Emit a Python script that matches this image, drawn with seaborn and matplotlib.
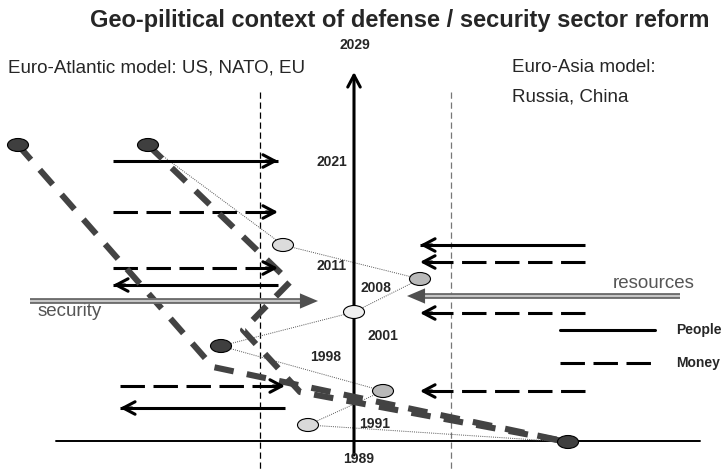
import numpy as np
import pandas as pd
import seaborn as sns
import matplotlib.pyplot as plt
from matplotlib.patches import Ellipse

# timeline labels on the central axis
years = ["2029", "2021", "2011", "2008", "2001", "1998", "1991", "1989"]
year_x = [355, 332, 332, 376, 383, 326, 375, 359]
year_y = [45, 162, 266, 288, 336, 357, 424, 459]

# dotted path of reform stages (nodes)
path_x = [148, 283, 420, 354, 221, 383, 308, 568]
path_y = [145, 245, 279, 312, 346, 391, 425, 442]
node_color = ["#3f3f3f", "#dcdcdc", "#b9b9b9", "#efefef", "#3f3f3f", "#b9b9b9", "#d9d9d9", "#3f3f3f"]
start_x = [18]
start_y = [145]

# thick dashed trajectories
traj_a_x = [18, 213, 568]
traj_a_y = [145, 367, 442]
traj_b_x = [148, 290, 243, 300, 568]
traj_b_y = [145, 282, 330, 392, 442]

# Euro-Atlantic flows (left side)
west_y = [161, 212, 268, 285, 386, 408]
west_start = [113, 113, 113, 278, 120, 285]
west_end = [278, 278, 278, 113, 285, 120]
west_kind = ["People", "Money", "Money", "People", "Money", "People"]

# Euro-Asia flows (right side)
east_y = [245, 262, 313, 391]
east_start = [585, 585, 585, 585]
east_end = [420, 420, 420, 420]
east_kind = ["People", "Money", "Money", "Money"]

legend_kind = ["People", "Money"]
legend_y = [330, 363]

sns.set_style("white")
plt.rcParams["font.family"] = ["Liberation Sans", "DejaVu Sans"]

fig = plt.figure(figsize=(7.24, 4.69), dpi=100)
ax = fig.add_axes([0, 0, 1, 1])

money_ls = (0, (8, 2.8))
styles = {"People": "-", "Money": money_ls}
arrow_head = dict(arrowstyle="->,head_length=0.85,head_width=0.45", mutation_scale=10,
                  color="black", lw=2.2, shrinkA=0, shrinkB=0)


def flow(y, x0, x1, kind):
    ax.plot([x0, x1], [y, y], color="black", lw=2.2, linestyle=styles[kind],
            solid_capstyle="butt", dash_capstyle="butt")
    step = -12 if x1 > x0 else 12
    ax.annotate("", xy=(x1, y), xytext=(x1 + step, y), arrowprops=arrow_head)


# frame: vertical time axis, base line, bloc borders
ax.annotate("", xy=(354, 72), xytext=(354, 455), arrowprops=arrow_head)
ax.plot([56, 700], [441, 441], color="black", lw=1.4)
ax.plot([260, 260], [92, 469], color="black", lw=0.9, linestyle=(0, (5, 3)))
ax.plot([451, 451], [92, 469], color="#777777", lw=0.9, linestyle=(0, (5, 3)))

# thick dashed trajectories
for tx, ty in [(traj_a_x, traj_a_y), (traj_b_x, traj_b_y)]:
    df = pd.DataFrame({"x": tx, "y": ty})
    sns.lineplot(data=df, x="x", y="y", sort=False, estimator=None, ax=ax,
                 color="#434343", lw=4.4, linestyle=(0, (3.2, 2.2)), zorder=3)

# dotted path through the stages
path = pd.DataFrame({"x": path_x, "y": path_y})
sns.lineplot(data=path, x="x", y="y", sort=False, estimator=None, ax=ax,
             color="#555555", lw=0.7, linestyle=(0, (1, 1.2)), zorder=2)
ax.set_xlim(0, 724)
ax.set_ylim(469, 0)
ax.axis("off")

for x, y, c in zip(path_x + start_x, path_y + start_y, node_color + [node_color[0]]):
    ax.add_patch(Ellipse((x, y), 21, 13, facecolor=c, edgecolor="black", lw=0.8, zorder=5))

# flows
for y, x0, x1, k in zip(west_y, west_start, west_end, west_kind):
    flow(y, x0, x1, k)
for y, x0, x1, k in zip(east_y, east_start, east_end, east_kind):
    flow(y, x0, x1, k)

# security / resources double arrows
for (x0, x1, y) in [(30, 300, 301), (680, 425, 296)]:
    ax.plot([x0, x1], [y, y], color="#6e6e6e", lw=4.2, solid_capstyle="butt", zorder=4)
    ax.plot([x0, x1], [y, y], color="#d8d8d8", lw=1.2, solid_capstyle="butt", zorder=4)
    tip = x1 + 18 if x1 > x0 else x1 - 18
    ax.annotate("", xy=(tip, y), xytext=(x1, y), zorder=4,
                arrowprops=dict(arrowstyle="-|>,head_length=1.3,head_width=0.55",
                                mutation_scale=10, color="#505050", lw=0,
                                shrinkA=0, shrinkB=0))
ax.text(38, 312, "security", fontsize=13.5, color="#555555", va="center", ha="left")
ax.text(695, 284, "resources", fontsize=13.5, color="#555555", va="center", ha="right")

# legend
for k, y in zip(legend_kind, legend_y):
    ax.plot([560, 655], [y, y], color="black", lw=2.2, linestyle=styles[k],
            dash_capstyle="butt")
    ax.text(676, y, k, fontsize=10, fontweight="bold", va="center", ha="left")

for t, x, y in zip(years, year_x, year_y):
    ax.text(x, y, t, fontsize=10, fontweight="bold", ha="center", va="center", zorder=6)

ax.text(400, 20, "Geo-pilitical context of defense / security sector reform",
        fontsize=17, fontweight="bold", ha="center", va="center")
ax.text(8, 68, "Euro-Atlantic model: US, NATO, EU", fontsize=13.5, ha="left", va="center")
ax.text(512, 68, "Euro-Asia model:", fontsize=13.5, ha="left", va="center")
ax.text(512, 97, "Russia, China", fontsize=13.5, ha="left", va="center")

fig.savefig("out.png", dpi=100)
